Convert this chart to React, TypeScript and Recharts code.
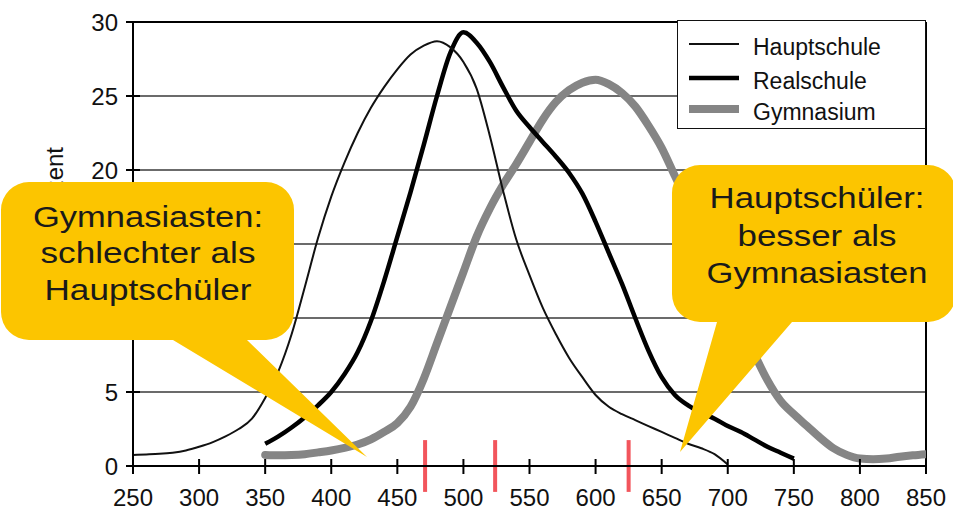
import React from 'react';
import { LineChart, Line, XAxis, YAxis, CartesianGrid, ReferenceLine, Legend } from 'recharts';

const FONT = '"Liberation Sans", Arial, Helvetica, sans-serif';

// ---- data ----
const xTicks = [250, 300, 350, 400, 450, 500, 550, 600, 650, 700, 750, 800, 850];
const yTicks = [0, 5, 10, 15, 20, 25, 30];
// tick labels that sit underneath the left callout in the reference
const coveredYLabels = [10, 15];
const seriesNames = ['Hauptschule', 'Realschule', 'Gymnasium'];

const hauptschuleScores = [250, 260, 270, 280, 290, 300, 310, 320, 330, 340, 350, 360, 370, 380, 390, 400, 410, 420, 430, 440, 450, 460, 470, 480, 490, 500, 510, 520, 530, 540, 550, 560, 570, 580, 590, 600, 610, 620, 630, 640, 650, 660, 670, 680, 690, 700];
const hauptschuleShare = [0.75, 0.78, 0.82, 0.9, 1.05, 1.3, 1.6, 2.0, 2.5, 3.2, 4.6, 6.4, 8.9, 12.1, 15.4, 18.2, 20.5, 22.5, 24.2, 25.6, 26.8, 27.8, 28.4, 28.7, 28.3, 27.3, 25.5, 22.3, 18.6, 15.3, 12.9, 10.7, 8.9, 7.3, 6.0, 4.8, 4.0, 3.5, 3.1, 2.7, 2.3, 1.9, 1.5, 1.2, 0.8, 0.1];

const realschuleScores = [350, 360, 370, 380, 390, 400, 410, 420, 430, 440, 450, 460, 470, 480, 490, 500, 510, 520, 530, 540, 550, 560, 570, 580, 590, 600, 610, 620, 630, 640, 650, 660, 670, 680, 690, 700, 710, 720, 730, 740, 750];
const realschuleShare = [1.5, 2.0, 2.6, 3.3, 4.1, 5.0, 6.2, 7.7, 9.8, 12.5, 15.5, 18.5, 21.7, 25.0, 27.9, 29.3, 28.6, 27.3, 25.6, 24.0, 22.9, 21.9, 20.9, 19.8, 18.4, 16.5, 14.4, 12.3, 10.0, 7.8, 6.0, 4.8, 4.1, 3.6, 3.2, 2.7, 2.3, 1.8, 1.3, 0.9, 0.5];

const gymnasiumScores = [350, 360, 370, 380, 390, 400, 410, 420, 430, 440, 450, 460, 470, 480, 490, 500, 510, 520, 530, 540, 550, 560, 570, 580, 590, 600, 610, 620, 630, 640, 650, 660, 670, 680, 690, 700, 710, 720, 730, 740, 750, 760, 770, 780, 790, 800, 810, 820, 830, 840, 850];
const gymnasiumShare = [0.75, 0.72, 0.74, 0.8, 0.92, 1.05, 1.22, 1.45, 1.8, 2.3, 2.9, 4.0, 5.9, 8.3, 10.7, 13.1, 15.5, 17.4, 19.0, 20.4, 21.9, 23.4, 24.6, 25.4, 25.9, 26.1, 25.8, 25.2, 24.3, 23.0, 21.5, 19.6, 17.7, 15.7, 13.6, 11.6, 9.6, 7.6, 5.8, 4.4, 3.5, 2.7, 1.9, 1.2, 0.75, 0.5, 0.45, 0.5, 0.62, 0.72, 0.8];

const markerScores = [471, 524, 625];

const bubbleLeftLines = ['Gymnasiasten:', 'schlechter als', 'Hauptschüler'];
const bubbleRightLines = ['Hauptschüler:', 'besser als', 'Gymnasiasten'];

// ---- styles ----
const seriesStyle: Record<string, { stroke: string; width: number }> = {
  Hauptschule: { stroke: '#111111', width: 2 },
  Realschule: { stroke: '#000000', width: 4.5 },
  Gymnasium: { stroke: '#858585', width: 8 },
};
const YELLOW = '#fcc500';
const RED = '#f2555c';

const toRows = (xs: number[], ys: number[]) => xs.map((x, i) => ({ score: x, value: ys[i] }));
const hauptschuleData = toRows(hauptschuleScores, hauptschuleShare);
const realschuleData = toRows(realschuleScores, realschuleShare);
const gymnasiumData = toRows(gymnasiumScores, gymnasiumShare);

const XTick = (props: any) => {
  const { x, y, payload } = props;
  return (
    <g>
      <line x1={x} x2={x} y1={y - 7} y2={y + 8} stroke="#000" strokeWidth={2} />
      <text x={x} y={y + 40} textAnchor="middle" fontSize={24} fontFamily={FONT} fill="#111">
        {payload.value}
      </text>
    </g>
  );
};

const YTick = (props: any) => {
  const { x, y, payload } = props;
  const showLabel = !coveredYLabels.includes(payload.value);
  return (
    <g>
      <line x1={x - 7} x2={x + 7} y1={y} y2={y} stroke="#000" strokeWidth={2} />
      {showLabel && (
        <text x={x - 15} y={y} dy="0.36em" textAnchor="end" fontSize={24} fontFamily={FONT} fill="#111">
          {payload.value}
        </text>
      )}
    </g>
  );
};

const renderLegend = (props: any) => {
  const payload = (props.payload || []).slice().sort(
    (a: any, b: any) => seriesNames.indexOf(a.value) - seriesNames.indexOf(b.value)
  );
  const rowTops = [23, 57, 88];
  return (
    <div
      style={{
        width: 249,
        height: 109,
        boxSizing: 'border-box',
        border: '1.5px solid #111',
        background: '#fff',
        position: 'relative',
      }}
    >
      <svg width={249} height={109} style={{ position: 'absolute', left: 0, top: 0 }}>
        {payload.map((p: any, i: number) => {
          const st = seriesStyle[p.value];
          return (
            <g key={p.value}>
              <line x1={11} x2={61} y1={rowTops[i]} y2={rowTops[i]} stroke={st.stroke} strokeWidth={st.width} />
              <text x={75} y={rowTops[i] + 3} dy="0.35em" fontSize={23} fontFamily={FONT} fill="#111">
                {p.value}
              </text>
            </g>
          );
        })}
      </svg>
    </div>
  );
};

const bubblePath = (
  x0: number, y0: number, x1: number, y1: number, r: number,
  baseL: number, baseR: number, tipX: number, tipY: number
) =>
  `M${x0 + r},${y0} L${x1 - r},${y0} A${r},${r} 0 0 1 ${x1},${y0 + r} L${x1},${y1 - r} ` +
  `A${r},${r} 0 0 1 ${x1 - r},${y1} L${baseR},${y1} L${tipX},${tipY} L${baseL},${y1} ` +
  `L${x0 + r},${y1} A${r},${r} 0 0 1 ${x0},${y1 - r} L${x0},${y0 + r} A${r},${r} 0 0 1 ${x0 + r},${y0} Z`;

const leftWidths = [230, 215, 207];
const leftBase = [227, 263, 300];
const rightWidths = [215, 159, 221];
const rightBase = [208, 246, 283];

export default function App() {
  return (
    <div style={{ position: 'absolute', left: 0, top: 0, width: 953, height: 511, background: '#fff' }}>
      <LineChart width={953} height={511} margin={{ top: 22, right: 27, left: 0, bottom: 0 }}>
        <CartesianGrid vertical={false} stroke="#3a3a3a" strokeWidth={1.4} />
        <XAxis
          dataKey="score"
          type="number"
          domain={[250, 850]}
          ticks={xTicks}
          allowDataOverflow
          height={45}
          tickSize={0}
          tickMargin={0}
          tickLine={false}
          axisLine={{ stroke: '#000', strokeWidth: 2 }}
          tick={<XTick />}
          interval={0}
        />
        <YAxis
          type="number"
          domain={[0, 30]}
          ticks={yTicks}
          width={133}
          tickSize={0}
          tickMargin={0}
          tickLine={false}
          axisLine={{ stroke: '#000', strokeWidth: 2 }}
          tick={<YTick />}
          interval={0}
          label={{
            content: () => (
              <text
                x={55}
                y={147}
                transform="rotate(-90 55 147)"
                textAnchor="end"
                dy="0.35em"
                fontSize={24}
                fontFamily={FONT}
                fill="#111"
              >
                Prozent
              </text>
            ),
          }}
        />
        <ReferenceLine y={30} stroke="#000" strokeWidth={2.2} />
        <ReferenceLine x={850} stroke="#000" strokeWidth={2} />
        <Legend
          layout="vertical"
          align="center"
          verticalAlign="middle"
          content={renderLegend}
          wrapperStyle={{ position: 'absolute', left: 677, top: 20, width: 249, height: 109 }}
        />
        <Line
          data={gymnasiumData}
          dataKey="value"
          name="Gymnasium"
          type="monotone"
          stroke={seriesStyle.Gymnasium.stroke}
          strokeWidth={seriesStyle.Gymnasium.width}
          strokeLinecap="round"
          dot={false}
          activeDot={false}
          isAnimationActive={false}
        />
        <Line
          data={realschuleData}
          dataKey="value"
          name="Realschule"
          type="monotone"
          stroke={seriesStyle.Realschule.stroke}
          strokeWidth={seriesStyle.Realschule.width}
          dot={false}
          activeDot={false}
          isAnimationActive={false}
        />
        <Line
          data={hauptschuleData}
          dataKey="value"
          name="Hauptschule"
          type="monotone"
          stroke={seriesStyle.Hauptschule.stroke}
          strokeWidth={seriesStyle.Hauptschule.width}
          dot={false}
          activeDot={false}
          isAnimationActive={false}
        />
        {markerScores.map((s) => (
          <ReferenceLine
            key={s}
            segment={[{ x: s, y: -1.75 }, { x: s, y: 1.75 }]}
            stroke={RED}
            strokeWidth={4}
            ifOverflow="visible"
          />
        ))}
      </LineChart>
      <svg
        width={953}
        height={511}
        style={{ position: 'absolute', left: 0, top: 0, pointerEvents: 'none' }}
      >
        <path d={bubblePath(1, 182, 294, 340, 28, 173, 247, 367, 457)} fill={YELLOW} />
        <path d={bubblePath(672, 165, 956, 322, 28, 717, 792, 680, 452)} fill={YELLOW} />
        {bubbleLeftLines.map((t, i) => (
          <text
            key={t}
            x={148}
            y={leftBase[i]}
            textAnchor="middle"
            fontSize={30}
            fontFamily={FONT}
            fill="#1a1a1a"
            textLength={leftWidths[i]}
            lengthAdjust="spacingAndGlyphs"
          >
            {t}
          </text>
        ))}
        {bubbleRightLines.map((t, i) => (
          <text
            key={t}
            x={817}
            y={rightBase[i]}
            textAnchor="middle"
            fontSize={30}
            fontFamily={FONT}
            fill="#1a1a1a"
            textLength={rightWidths[i]}
            lengthAdjust="spacingAndGlyphs"
          >
            {t}
          </text>
        ))}
      </svg>
    </div>
  );
}
